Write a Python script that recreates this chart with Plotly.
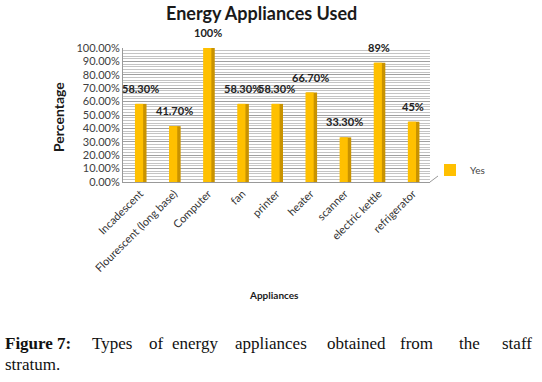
import plotly.graph_objects as go

categories = ["Incadescent", "Flourescent (long base)", "Computer", "fan", "printer",
              "heater", "scanner", "electric kettle", "refrigerator"]
values = [58.3, 41.7, 100, 58.3, 58.3, 66.7, 33.3, 89, 45]
value_labels = ["58.30%", "41.70%", "100%", "58.30%", "58.30%", "66.70%", "33.30%", "89%", "45%"]
series_name = "Yes"

W, H = 542, 382
L, R, T, B = 123, 112, 48, 200
PW, PH = W - L - R, H - T - B

def px(x):
    return (x - L) / PW

def py(y):
    return (H - B - y) / PH

xs = list(range(len(categories)))
fig = go.Figure()
# side (shaded) face of the pseudo-3D bars
fig.add_trace(go.Bar(x=xs, y=values, width=0.32, offset=-0.13,
                     marker=dict(color="#C99300", line=dict(width=0)),
                     showlegend=False, hoverinfo="skip"))
# front face
fig.add_trace(go.Bar(x=xs, y=values, width=0.24, offset=-0.15,
                     name=series_name,
                     marker=dict(color="#FFC000", line=dict(width=0))))

fig.update_layout(
    width=W, height=H,
    margin=dict(l=L, r=R, t=T, b=B),
    paper_bgcolor="white", plot_bgcolor="white",
    barmode="overlay",
    font=dict(family="Lato, Arial", color="#333333"),
    showlegend=True,
    legend=dict(x=px(430), y=py(170), xanchor="left", yanchor="middle",
                font=dict(size=10, color="#444444"), bgcolor="rgba(0,0,0,0)",
                itemwidth=30),
    xaxis=dict(range=[-0.5, len(categories) - 0.5], tickmode="array",
               tickvals=xs, ticktext=categories,
               tickangle=-45, tickfont=dict(size=11, color="#333333"),
               showline=True, linecolor="#999999", linewidth=1, showgrid=False,
               ticks=""),
    yaxis=dict(range=[0, 100], dtick=10, tickformat=".2f", ticksuffix="%",
               tickfont=dict(size=11, color="#404040"),
               showline=True, linecolor="#999999", ticks="",
               showgrid=True, gridcolor="#a0a0a0", gridwidth=1,
               minor=dict(dtick=2, showgrid=True, gridcolor="#c4c4c4", gridwidth=1),
               zeroline=False),
    shapes=[
        # slanted right end of the 3-D floor
        dict(type="line", xref="paper", yref="paper",
             x0=1, y0=0, x1=px(438), y1=py(176), line=dict(color="#999999", width=1)),
    ],
)

# value labels above the bars
for xi, v, lab in zip(xs, values, value_labels):
    fig.add_annotation(x=xi, y=v, text="<b>" + lab + "</b>", showarrow=False,
                       xanchor="center", yanchor="bottom", yshift=7,
                       font=dict(family="Lato, Arial", size=11, color="#222222"))

fig.add_annotation(text="<b>Energy Appliances Used</b>", x=px(261), y=py(13), xref="paper", yref="paper",
                   showarrow=False, font=dict(size=18, color="#1a1a1a"), xanchor="center", yanchor="middle")
fig.add_annotation(text="<b>Percentage</b>", x=px(58), y=py(117), xref="paper", yref="paper",
                   showarrow=False, textangle=-90, font=dict(size=14, color="#1a1a1a"),
                   xanchor="center", yanchor="middle")
fig.add_annotation(text="<b>Appliances</b>", x=px(274), y=py(295), xref="paper", yref="paper",
                   showarrow=False, font=dict(size=10, color="#1a1a1a"), xanchor="center", yanchor="middle")

caption_words = [("<b>Figure</b>", 3), ("<b>7:</b>", 55), ("Types", 90), ("of", 147),
                 ("energy", 170), ("appliances", 233), ("obtained", 325), ("from", 398),
                 ("the", 457), ("staff", 500)]
for word, xpos in caption_words:
    fig.add_annotation(text=word, x=px(xpos), y=py(343), xref="paper", yref="paper",
                       showarrow=False, xanchor="left", yanchor="middle",
                       font=dict(family="Liberation Serif, DejaVu Serif, serif", size=17, color="#111111"))
fig.add_annotation(text="stratum.", x=px(3), y=py(364), xref="paper", yref="paper",
                   showarrow=False, xanchor="left", yanchor="middle",
                   font=dict(family="Liberation Serif, DejaVu Serif, serif", size=17, color="#111111"))

fig.write_html("out.html", config={"displayModeBar": False},
               post_script="document.body.style.margin='0';document.body.style.overflow='hidden';")
